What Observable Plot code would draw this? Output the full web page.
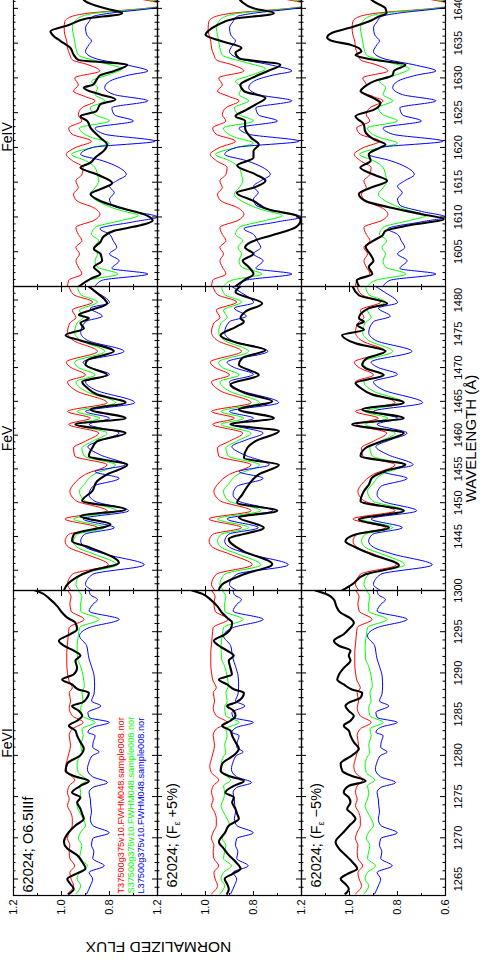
<!DOCTYPE html>
<html><head><meta charset="utf-8">
<script src="https://cdn.jsdelivr.net/npm/d3@7"></script>
<script src="https://cdn.jsdelivr.net/npm/@observablehq/plot@0.6"></script>
<style>
html,body{margin:0;padding:0;background:#fff;overflow:hidden;width:485px;height:970px;}
#land{position:absolute;left:0;top:0;width:970px;height:485px;transform-origin:0 0;transform:translateY(970px) rotate(-90deg);}
#land svg{position:absolute;}
</style></head><body><div id="land"></div>
<script>
// ---------- DATA: [wavelength (Å), normalized flux] ----------
// FeVI window
const fe6_T = [[1263.2,0.975],[1264.2,0.95],[1265.0,0.96],[1265.8,0.965],[1266.6,0.945],[1267.5,0.965],[1268.3,0.968],[1269.1,0.965],[1269.9,0.975],[1270.7,0.968],[1271.5,0.955],[1272.3,0.955],[1273.1,0.962],[1273.9,0.975],[1274.7,0.968],[1275.5,0.975],[1276.3,0.968],[1277.0,0.945],[1277.9,0.975],[1278.7,0.982],[1279.6,0.975],[1280.4,0.968],[1281.2,0.962],[1282.4,0.968],[1283.2,0.955],[1284.0,0.91],[1284.8,0.955],[1285.8,0.968],[1286.6,0.962],[1287.6,0.968],[1288.2,0.955],[1289.0,0.968],[1290.0,0.975],[1291.2,0.978],[1292.5,0.978],[1293.5,0.975],[1294.5,0.972],[1295.5,0.968],[1296.5,0.906],[1297.5,0.96],[1298.5,0.965],[1299.2,0.96],[1300.0,0.975]];
const fe6_S = [[1263.2,0.94],[1264.2,0.92],[1265.0,0.935],[1265.8,0.925],[1266.6,0.892],[1267.5,0.925],[1268.3,0.92],[1269.1,0.915],[1269.9,0.93],[1270.7,0.92],[1271.5,0.9],[1272.3,0.91],[1273.1,0.925],[1273.9,0.935],[1274.7,0.925],[1275.5,0.92],[1276.3,0.925],[1277.0,0.895],[1277.9,0.93],[1278.7,0.935],[1279.6,0.93],[1280.4,0.915],[1281.2,0.92],[1282.4,0.91],[1283.2,0.915],[1284.0,0.86],[1284.8,0.915],[1285.8,0.92],[1286.6,0.91],[1287.6,0.915],[1288.4,0.905],[1289.6,0.91],[1290.8,0.92],[1291.7,0.933],[1293.3,0.935],[1294.5,0.93],[1295.5,0.925],[1296.5,0.843],[1297.5,0.92],[1298.5,0.92],[1299.2,0.915],[1300.0,0.93]];
const fe6_L = [[1263.2,0.895],[1264.3,0.878],[1265.0,0.87],[1265.8,0.885],[1266.6,0.822],[1267.5,0.87],[1268.3,0.865],[1269.1,0.875],[1269.9,0.87],[1270.6,0.801],[1271.5,0.87],[1272.3,0.88],[1273.1,0.875],[1273.9,0.878],[1274.7,0.88],[1275.5,0.885],[1276.1,0.87],[1276.7,0.808],[1277.4,0.87],[1278.3,0.892],[1279.2,0.885],[1280.0,0.87],[1280.4,0.843],[1281.0,0.87],[1281.6,0.868],[1282.4,0.86],[1282.8,0.89],[1283.4,0.87],[1284.0,0.801],[1284.6,0.885],[1285.2,0.89],[1286.0,0.836],[1286.6,0.875],[1287.4,0.865],[1288.4,0.862],[1289.6,0.864],[1290.8,0.875],[1291.7,0.885],[1292.5,0.89],[1293.3,0.895],[1294.5,0.925],[1295.5,0.885],[1296.5,0.76],[1297.5,0.885],[1298.3,0.87],[1298.9,0.85],[1299.5,0.88],[1300.0,0.885]];
const fe6_obs1 = [[1263.2,0.969],[1263.8,0.949],[1264.4,0.963],[1265.0,0.976],[1265.6,0.942],[1266.25,0.9],[1267.1,0.914],[1267.9,0.935],[1268.7,0.976],[1269.5,0.99],[1270.7,0.969],[1271.5,0.942],[1272.3,0.907],[1272.9,0.914],[1273.5,0.921],[1274.3,0.935],[1274.9,0.921],[1275.5,0.956],[1276.3,0.921],[1276.9,0.886],[1277.5,0.949],[1278.1,0.983],[1279.0,0.976],[1280.0,0.921],[1280.8,0.907],[1281.6,0.921],[1282.4,0.935],[1283.0,0.942],[1283.6,0.969],[1284.2,0.935],[1284.8,0.914],[1285.4,0.928],[1286.0,0.956],[1286.4,0.914],[1287.0,0.893],[1287.6,0.886],[1288.0,0.93],[1288.6,0.956],[1289.2,0.997],[1289.8,0.95],[1290.6,0.935],[1291.5,0.942],[1292.1,0.921],[1292.7,0.949],[1293.3,0.99],[1293.9,1.011],[1294.7,0.963],[1295.3,0.935],[1296.1,0.942],[1296.7,0.976],[1297.3,0.997],[1298.1,1.018],[1298.9,1.046],[1299.9,1.099],[1300.0,1.11]];
const fe6_obs2 = [[1263.2,0.91],[1263.8,0.903],[1264.4,0.91],[1265.0,0.92],[1265.6,0.889],[1266.25,0.854],[1267.1,0.875],[1267.9,0.903],[1268.7,0.924],[1269.5,0.944],[1270.7,0.917],[1271.5,0.903],[1272.3,0.861],[1272.9,0.868],[1273.5,0.875],[1274.3,0.889],[1274.9,0.882],[1275.5,0.917],[1276.3,0.882],[1276.9,0.84],[1277.5,0.903],[1278.1,0.937],[1279.0,0.93],[1280.0,0.882],[1280.8,0.861],[1281.6,0.875],[1282.4,0.889],[1283.0,0.896],[1283.6,0.931],[1284.2,0.896],[1284.8,0.875],[1285.4,0.882],[1286.0,0.91],[1286.4,0.875],[1287.0,0.847],[1287.6,0.84],[1288.0,0.88],[1288.6,0.91],[1289.2,0.944],[1289.8,0.89],[1290.6,0.896],[1291.5,0.903],[1292.1,0.882],[1292.7,0.91],[1293.3,0.944],[1293.9,0.965],[1294.7,0.917],[1295.3,0.896],[1296.1,0.889],[1296.7,0.91],[1297.3,0.931],[1298.1,0.951],[1298.9,0.979],[1299.6,1.014],[1300.0,1.056]];
const fe6_obs3 = [[1263.2,1.017],[1263.8,1.003],[1264.4,1.017],[1265.0,1.037],[1265.6,1.01],[1266.25,0.968],[1267.1,0.989],[1267.9,1.017],[1268.7,1.044],[1269.5,1.058],[1270.7,1.024],[1271.5,1.0],[1272.3,0.975],[1272.9,0.989],[1273.5,1.01],[1274.3,0.996],[1274.9,1.003],[1275.5,1.024],[1276.3,1.003],[1276.9,0.933],[1277.5,0.99],[1278.1,1.03],[1279.0,1.037],[1280.0,0.989],[1280.8,0.961],[1281.6,0.982],[1282.4,0.996],[1283.0,1.003],[1283.6,1.024],[1284.2,0.996],[1284.8,0.982],[1285.4,1.003],[1286.0,1.017],[1286.4,1.003],[1287.0,0.954],[1287.6,0.947],[1288.0,0.99],[1288.6,1.024],[1289.2,1.051],[1289.8,1.044],[1290.6,1.024],[1291.5,0.996],[1292.1,1.003],[1292.7,0.996],[1293.3,1.044],[1293.9,1.065],[1294.7,1.024],[1295.3,1.003],[1296.1,0.982],[1296.7,1.0],[1297.3,1.037],[1298.1,1.055],[1298.9,1.065],[1299.6,1.1],[1300.0,1.142]];

// FeV window
const fe5_T = [[1437.0,0.96],[1437.9,0.975],[1439.4,0.955],[1440.8,0.805],[1442.4,0.9],[1443.4,0.97],[1444.3,0.985],[1445.3,0.97],[1446.3,0.85],[1447.6,0.985],[1448.8,0.81],[1450.3,0.94],[1451.7,0.965],[1452.7,0.95],[1454.2,0.9],[1455.6,0.81],[1456.9,0.945],[1458.1,0.95],[1459.1,0.9],[1460.3,0.845],[1461.6,0.97],[1462.5,0.88],[1463.5,0.975],[1464.8,0.81],[1466.5,0.935],[1467.9,0.975],[1468.9,0.9],[1470.0,0.96],[1470.8,0.98],[1472.4,0.85],[1474.0,0.95],[1475.2,0.975],[1476.6,0.965],[1477.4,0.94],[1478.5,0.955],[1479.7,0.87],[1480.8,0.95],[1482.2,0.97]];
const fe5_S = [[1437.0,0.925],[1437.9,0.94],[1439.4,0.92],[1440.8,0.77],[1442.4,0.865],[1443.4,0.935],[1444.3,0.95],[1445.3,0.935],[1446.3,0.82],[1447.6,0.95],[1448.8,0.77],[1450.3,0.905],[1451.7,0.925],[1452.7,0.905],[1454.2,0.865],[1455.6,0.775],[1456.9,0.905],[1458.1,0.915],[1459.1,0.87],[1460.3,0.81],[1461.6,0.935],[1462.5,0.84],[1463.5,0.935],[1464.8,0.775],[1466.5,0.9],[1467.9,0.94],[1468.9,0.86],[1470.0,0.93],[1470.8,0.945],[1472.4,0.82],[1474.0,0.92],[1475.2,0.945],[1476.6,0.935],[1477.4,0.91],[1478.5,0.925],[1479.7,0.85],[1480.8,0.92],[1482.2,0.935]];
const fe5_L = [[1437.0,0.87],[1437.9,0.9],[1439.4,0.87],[1440.8,0.655],[1442.4,0.82],[1443.4,0.9],[1444.3,0.92],[1445.3,0.905],[1446.3,0.78],[1447.6,0.91],[1448.8,0.72],[1450.2,0.86],[1451.2,0.885],[1452.4,0.87],[1453.6,0.76],[1454.6,0.86],[1455.6,0.735],[1457.1,0.84],[1458.3,0.89],[1459.3,0.83],[1460.3,0.76],[1461.6,0.885],[1462.5,0.8],[1463.5,0.9],[1464.8,0.695],[1466.7,0.86],[1467.9,0.9],[1469.0,0.8],[1470.0,0.88],[1470.8,0.91],[1472.4,0.74],[1474.0,0.89],[1475.2,0.92],[1476.8,0.9],[1477.6,0.83],[1478.8,0.88],[1479.6,0.8],[1481.3,0.86],[1482.2,0.9]];
const fe5_obs1 = [[1437.0,0.99],[1437.9,0.976],[1439.9,0.879],[1441.1,0.761],[1443.4,0.886],[1444.3,0.956],[1445.3,0.949],[1446.8,0.796],[1448.0,0.921],[1449.0,0.733],[1450.3,0.914],[1451.7,0.872],[1453.2,0.851],[1454.2,0.81],[1455.6,0.726],[1456.9,0.886],[1458.1,0.872],[1459.1,0.851],[1460.3,0.733],[1461.6,0.942],[1462.5,0.733],[1463.8,0.879],[1464.8,0.733],[1466.0,0.851],[1467.0,0.893],[1467.9,0.914],[1468.9,0.81],[1470.4,0.9],[1471.1,0.893],[1472.4,0.782],[1474.0,0.921],[1474.8,0.983],[1475.8,0.907],[1476.6,0.921],[1477.3,0.886],[1477.8,0.928],[1478.5,0.879],[1479.5,0.81],[1481.2,0.858],[1482.2,0.893]];
const fe5_obs2 = [[1437.0,0.945],[1437.9,0.931],[1439.4,0.84],[1440.9,0.722],[1442.9,0.847],[1444.6,0.903],[1446.3,0.757],[1447.8,0.861],[1448.8,0.701],[1450.0,0.868],[1451.2,0.847],[1452.7,0.819],[1454.2,0.778],[1455.6,0.694],[1456.6,0.84],[1458.1,0.826],[1459.1,0.792],[1460.6,0.694],[1461.6,0.896],[1462.5,0.715],[1463.8,0.861],[1465.0,0.722],[1466.2,0.833],[1467.5,0.896],[1468.9,0.778],[1470.4,0.861],[1471.4,0.847],[1472.6,0.75],[1473.6,0.861],[1474.8,0.937],[1476.0,0.875],[1476.8,0.84],[1477.3,0.854],[1478.3,0.833],[1479.5,0.764],[1481.2,0.875],[1482.2,0.847]];
const fe5_obs3 = [[1437.0,1.031],[1437.9,0.989],[1439.4,0.933],[1440.7,0.794],[1442.4,0.912],[1443.4,0.975],[1444.3,1.017],[1445.3,0.975],[1446.3,0.836],[1447.5,0.961],[1448.8,0.774],[1450.2,0.954],[1451.7,0.94],[1452.7,0.919],[1453.7,0.906],[1454.7,0.85],[1455.6,0.767],[1456.9,0.954],[1458.1,0.933],[1459.1,0.864],[1460.3,0.774],[1461.6,0.989],[1462.5,0.774],[1463.8,0.947],[1464.8,0.774],[1466.0,0.906],[1467.0,0.954],[1467.7,0.975],[1468.9,0.857],[1469.9,0.933],[1470.4,0.947],[1471.4,0.926],[1472.4,0.85],[1473.6,0.975],[1474.8,1.031],[1475.6,0.94],[1476.3,0.968],[1476.8,0.94],[1477.3,0.961],[1478.8,0.919],[1479.5,0.843],[1480.7,0.961],[1482.2,0.989]];

// FeIV window
const fe4_T = [[1600.0,0.975],[1600.9,0.97],[1601.8,0.915],[1602.8,0.93],[1603.7,0.94],[1604.7,0.925],[1605.6,0.94],[1606.6,0.915],[1607.5,0.93],[1608.5,0.94],[1609.5,0.865],[1610.4,0.84],[1611.4,0.87],[1612.3,0.935],[1613.3,0.95],[1614.2,0.93],[1615.2,0.94],[1616.1,0.915],[1617.1,0.91],[1618.1,0.955],[1619.0,0.98],[1620.0,0.94],[1620.9,0.875],[1621.9,0.955],[1622.8,0.97],[1623.8,0.915],[1624.7,0.93],[1625.7,0.915],[1626.7,0.86],[1627.3,0.9],[1628.1,0.95],[1629.0,0.93],[1630.0,0.945],[1631.0,0.84],[1631.9,0.89],[1632.6,0.955],[1633.3,0.965],[1634.3,0.975],[1635.3,0.978],[1636.2,0.986],[1637.2,0.989],[1638.1,0.986],[1638.8,0.96],[1639.3,0.89],[1640.0,0.65],[1640.5,0.56],[1641.0,0.62],[1642.0,0.8]];
const fe4_S = [[1600.0,0.925],[1600.9,0.89],[1601.8,0.765],[1602.8,0.85],[1603.7,0.86],[1604.7,0.85],[1605.6,0.865],[1606.6,0.845],[1607.5,0.875],[1608.5,0.86],[1609.5,0.75],[1610.2,0.68],[1611.0,0.76],[1612.3,0.85],[1613.3,0.88],[1614.2,0.86],[1615.2,0.845],[1616.1,0.85],[1617.1,0.86],[1618.1,0.9],[1619.0,0.958],[1620.0,0.87],[1620.6,0.8],[1621.5,0.88],[1622.8,0.925],[1623.8,0.8],[1624.7,0.86],[1625.7,0.88],[1626.7,0.82],[1627.6,0.86],[1628.6,0.85],[1629.5,0.875],[1630.5,0.8],[1631.3,0.75],[1632.2,0.83],[1633.3,0.93],[1634.3,0.94],[1635.3,0.945],[1636.2,0.95],[1637.2,0.955],[1638.1,0.945],[1638.8,0.92],[1639.3,0.86],[1640.0,0.64],[1640.5,0.55],[1641.0,0.6],[1642.0,0.78]];
const fe4_L = [[1600.0,0.86],[1600.9,0.83],[1601.8,0.64],[1602.6,0.79],[1603.7,0.76],[1604.7,0.8],[1605.6,0.77],[1606.6,0.785],[1607.5,0.8],[1608.3,0.84],[1609.3,0.7],[1610.0,0.6],[1610.8,0.7],[1611.7,0.79],[1612.6,0.8],[1613.5,0.78],[1614.4,0.8],[1615.2,0.77],[1616.1,0.73],[1617.1,0.76],[1618.1,0.83],[1619.0,0.92],[1620.0,0.87],[1620.9,0.61],[1621.9,0.82],[1622.8,0.86],[1623.8,0.7],[1624.7,0.78],[1625.7,0.79],[1626.7,0.64],[1627.6,0.78],[1628.6,0.82],[1629.5,0.8],[1630.4,0.72],[1631.0,0.64],[1631.8,0.72],[1632.8,0.86],[1633.8,0.9],[1634.8,0.885],[1635.3,0.875],[1636.2,0.895],[1637.2,0.9],[1638.1,0.885],[1638.8,0.87],[1639.3,0.8],[1640.0,0.62],[1640.5,0.54],[1641.0,0.58],[1642.0,0.75]];
const fe4_obs1 = [[1600.0,0.928],[1601.1,0.879],[1601.8,0.838],[1602.8,0.865],[1603.7,0.831],[1604.7,0.838],[1605.4,0.865],[1606.4,0.838],[1607.2,0.824],[1608.0,0.782],[1608.8,0.671],[1609.5,0.62],[1610.2,0.643],[1611.4,0.762],[1612.3,0.838],[1613.3,0.879],[1614.0,0.838],[1614.9,0.789],[1616.1,0.851],[1617.1,0.921],[1617.8,0.879],[1618.6,0.858],[1619.5,0.824],[1620.4,0.81],[1621.4,0.838],[1622.8,0.879],[1623.8,0.893],[1624.5,0.921],[1625.2,0.855],[1626.2,0.838],[1626.9,0.775],[1627.6,0.838],[1628.6,0.907],[1629.0,0.87],[1629.9,0.851],[1630.4,0.838],[1631.0,0.78],[1631.9,0.726],[1632.6,0.93],[1633.3,0.949],[1634.3,0.963],[1635.3,1.004],[1636.0,1.032],[1636.7,1.046],[1637.6,0.97],[1638.5,0.9],[1639.3,0.747],[1640.0,0.82],[1641.0,0.9],[1642.0,0.92]];
const fe4_obs2 = [[1600.0,0.876],[1600.9,0.84],[1601.8,0.8],[1602.8,0.82],[1603.7,0.845],[1604.7,0.8],[1605.6,0.835],[1606.4,0.81],[1607.5,0.71],[1608.5,0.625],[1609.5,0.604],[1610.2,0.62],[1611.0,0.73],[1612.3,0.8],[1613.5,0.87],[1614.2,0.8],[1615.2,0.75],[1616.1,0.79],[1617.4,0.868],[1618.5,0.8],[1619.5,0.8],[1620.4,0.778],[1621.4,0.81],[1622.8,0.835],[1623.8,0.835],[1624.5,0.875],[1625.4,0.83],[1626.2,0.79],[1627.1,0.75],[1628.1,0.84],[1629.0,0.855],[1630.0,0.806],[1631.0,0.74],[1631.9,0.688],[1632.8,0.86],[1633.6,0.875],[1634.3,0.85],[1635.3,0.935],[1636.2,1.0],[1636.7,0.99],[1637.6,0.95],[1638.5,0.88],[1639.3,0.715],[1640.0,0.8],[1641.0,0.85],[1642.0,0.87]];
const fe4_obs3 = [[1600.0,0.96],[1600.9,0.97],[1601.8,0.905],[1602.8,0.92],[1603.7,0.9],[1604.7,0.915],[1605.7,0.933],[1606.6,0.9],[1607.3,0.864],[1608.0,0.85],[1608.8,0.75],[1609.7,0.607],[1610.4,0.7],[1611.4,0.836],[1612.3,0.933],[1613.3,0.961],[1614.2,0.912],[1615.2,0.843],[1616.1,0.9],[1617.1,0.955],[1618.1,0.912],[1619.0,0.92],[1620.0,0.87],[1620.4,0.85],[1621.2,0.9],[1622.3,0.935],[1623.3,0.94],[1624.5,0.975],[1625.4,0.9],[1626.4,0.871],[1627.1,0.9],[1628.1,0.954],[1629.0,0.926],[1629.5,0.899],[1630.4,0.82],[1631.0,0.815],[1631.9,0.767],[1632.6,0.9],[1633.3,0.975],[1633.8,0.95],[1634.8,1.0],[1635.3,1.072],[1635.8,1.093],[1636.5,1.072],[1637.2,1.0],[1638.1,0.92],[1638.8,0.88],[1639.3,0.846],[1640.0,0.85],[1641.0,0.9],[1642.0,0.93]];

// Tick labels
const fe6Labels = [1265,1270,1275,1280,1285,1290,1295,1300];
const fe5Labels = [1445,1450,1455,1460,1465,1470,1475,1480];
const fe4Labels = [1605,1610,1615,1620,1625,1630,1635,1640];
const fluxLabels = [1.2,1.0,0.8];
const fluxLabelsBottom = [1.2,1.0,0.8,0.6];
const ionTitles = ["FeVI","FeV","FeIV"];
const rowLabels = ["62024; O6.5IIIf","62024; (F_ε +5%)","62024; (F_ε −5%)"];
const modelNames = ["T37500g375v10.FWHM048.sample008.nor","S37500g375v10.FWHM048.sample008.nor","L37500g375v10.FWHM048.sample008.nor"];

// ---------- LAYOUT (landscape figure, rotated onto the page) ----------
const FONT = "Liberation Sans, Arial, Helvetica, sans-serif";
const panels = [
  {title: ionTitles[0], domain:[1263,1300], x0:74, x1:379, labels:fe6Labels, T:fe6_T, S:fe6_S, L:fe6_L, obs:[fe6_obs1,fe6_obs2,fe6_obs3]},
  {title: ionTitles[1], domain:[1437,1482], x0:379, x1:683, labels:fe5Labels, T:fe5_T, S:fe5_S, L:fe5_L, obs:[fe5_obs1,fe5_obs2,fe5_obs3]},
  {title: ionTitles[2], domain:[1600,1643], x0:683, x1:982, labels:fe4Labels, T:fe4_T, S:fe4_S, L:fe4_L, obs:[fe4_obs1,fe4_obs2,fe4_obs3]}
];
const rows = [{y0:13,y1:157,dx:3},{y0:157,y1:301,dx:8},{y0:301,y1:445,dx:8}];
const COLORS = ["#ff0000","#00ff00","#0000ff"];
const M = 70;
const land = document.getElementById("land");
const byW = a => a.slice().sort((p,q)=>p[0]-q[0]);

function fixSub(svg){
  d3.select(svg).selectAll("text").each(function(){
    const t = this.textContent;
    if (t.includes("F_ε")) {
      const [a,b] = t.split("F_ε");
      const s = d3.select(this); s.text(null);
      s.append("tspan").text(a + "F");
      s.append("tspan").attr("font-size","9px").attr("dy","3").text("ε");
      s.append("tspan").attr("dy","-3").text(b);
    }
  });
}

panels.forEach((p, c) => {
  rows.forEach((r, ri) => {
    const W = p.x1 - p.x0, H = r.y1 - r.y0;
    const [d0, d1] = p.domain;
    const major = d3.range(Math.ceil(d0/5)*5, d1 + 0.001, 5);
    const minor = d3.range(Math.ceil(d0), Math.floor(d1) + 1).filter(v => v % 5 !== 0);
    const fMajor = [0.6,0.8,1.0,1.2], fMinor = [0.7,0.9,1.1];
    const lineOpt = (col, w) => ({x: d=>d[0], y: d=>d[1], stroke: col, strokeWidth: w, curve: "monotone-x", clip: true});
    const marks = [
      Plot.line(byW(p.T), lineOpt(COLORS[0], 1)),
      Plot.line(byW(p.S), lineOpt(COLORS[1], 1)),
      Plot.line(byW(p.L), lineOpt(COLORS[2], 1)),
      Plot.line(byW(p.obs[ri]), lineOpt("#000000", 2.1)),
      Plot.frame({stroke:"black", strokeWidth:1.2}),
      Plot.ruleX(major, {x:d=>d, insetTop: H-5, stroke:"black"}),
      Plot.ruleX(major, {x:d=>d, insetBottom: H-5, stroke:"black"}),
      Plot.ruleX(minor, {x:d=>d, insetTop: H-2.5, stroke:"black"}),
      Plot.ruleX(minor, {x:d=>d, insetBottom: H-2.5, stroke:"black"}),
      Plot.ruleY(fMajor, {y:d=>d, insetRight: W-5, stroke:"black"}),
      Plot.ruleY(fMajor, {y:d=>d, insetLeft: W-5, stroke:"black"}),
      Plot.ruleY(fMinor, {y:d=>d, insetRight: W-3, stroke:"black"}),
      Plot.ruleY(fMinor, {y:d=>d, insetLeft: W-3, stroke:"black"})
    ];
    if (ri === 0) {
      marks.push(Plot.text([p.title], {frameAnchor:"top", dy:-6, text:d=>d, lineAnchor:"middle", fontSize:14, fontFamily:FONT, fill:"black"}));
    }
    if (ri === 2) {
      marks.push(Plot.text(p.labels, {x:d=>d, frameAnchor:"bottom", dy:13, text:d=>String(d), lineAnchor:"middle", fontSize:11, fontFamily:FONT, fill:"black"}));
      if (c === 1) marks.push(Plot.text(["WAVELENGTH (Å)"], {frameAnchor:"bottom", dy:26, text:d=>d, lineAnchor:"middle", fontSize:15, fontFamily:FONT, fill:"black"}));
    }
    if (c === 0) {
      marks.push(Plot.text(ri === 2 ? fluxLabelsBottom : fluxLabels, {y:d=>d, frameAnchor:"left", dx:-4, text:d=>d.toFixed(1), textAnchor:"end", lineAnchor:"middle", fontSize:11, fontFamily:FONT, fill:"black"}));
      marks.push(Plot.text([rowLabels[ri]], {frameAnchor:"top-left", dx:r.dx, dy:15, text:d=>d, textAnchor:"start", lineAnchor:"middle", fontSize:14.5, fontFamily:FONT, fill:"black"}));
      if (ri === 0) {
        modelNames.forEach((nm, k) => {
          marks.push(Plot.text([nm], {frameAnchor:"top-left", dx:2, dy:108 + 10*k, text:d=>d, textAnchor:"start", lineAnchor:"middle", fontSize:9.2, fontFamily:FONT, fill:COLORS[k]}));
        });
        marks.push(Plot.text(["NORMALIZED FLUX"], {frameAnchor:"bottom-left", dx:-51, dy:1, rotate:-90, text:d=>d, textAnchor:"middle", lineAnchor:"middle", fontSize:15.5, fontFamily:FONT, fill:"black"}));
      }
    }
    const svg = Plot.plot({
      width: W + 2*M, height: H + 2*M,
      marginLeft: M, marginRight: M, marginTop: M, marginBottom: M,
      x: {domain: p.domain, axis: null},
      y: {domain: [0.6, 1.2], axis: null},
      style: {background: "transparent", overflow: "visible", maxWidth: "none"},
      marks
    });
    svg.style.left = (p.x0 - M) + "px";
    svg.style.top = (r.y0 - M) + "px";
    fixSub(svg);
    land.appendChild(svg);
  });
});
</script></body></html>
